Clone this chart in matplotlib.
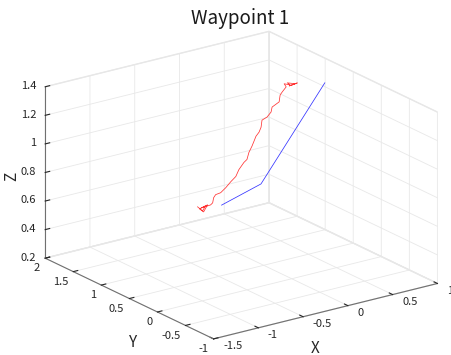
import numpy as np
import matplotlib
matplotlib.use('Agg')
import matplotlib.pyplot as plt
from matplotlib.ticker import FuncFormatter

plt.rcParams['font.family'] = ['Noto Sans CJK JP', 'DejaVu Sans']

# planned path (blue)
plan_x = [0.0, 0.44, 0.62]
plan_y = [1.25, 1.25, 0.40]
plan_z = [0.48, 0.56, 1.40]

# flown path (red)
fly_x = [-0.291, -0.221, -0.205, -0.262, -0.206, -0.186, -0.243, -0.152, -0.136, -0.143,
         -0.131, -0.082, -0.058, -0.043, -0.008, 0.031, 0.040, 0.072, 0.095, 0.093,
         0.105, 0.110, 0.115, 0.135, 0.140, 0.126, 0.172, 0.199, 0.193, 0.254,
         0.241, 0.253, 0.280, 0.247, 0.318, 0.277, 0.371, 0.310, 0.390, 0.341]
fly_y = [1.214, 1.237, 1.209, 1.226, 1.242, 1.203, 1.220, 1.203, 1.192, 1.164,
         1.147, 1.136, 1.119, 1.108, 1.074, 1.046, 1.006, 0.967, 0.950, 0.911,
         0.877, 0.849, 0.821, 0.798, 0.770, 0.731, 0.714, 0.686, 0.658, 0.630,
         0.591, 0.574, 0.546, 0.529, 0.534, 0.523, 0.529, 0.540, 0.523, 0.534]
fly_z = [0.520, 0.476, 0.514, 0.499, 0.466, 0.520, 0.504, 0.514, 0.528, 0.570,
         0.593, 0.601, 0.622, 0.635, 0.678, 0.714, 0.768, 0.821, 0.841, 0.899,
         0.946, 0.985, 1.025, 1.055, 1.094, 1.153, 1.171, 1.207, 1.248, 1.280,
         1.338, 1.360, 1.397, 1.427, 1.407, 1.430, 1.408, 1.400, 1.412, 1.404]

xticks = [-1.5, -1, -0.5, 0, 0.5, 1]
yticks = [-1, -0.5, 0, 0.5, 1, 1.5, 2]
zticks = [0.2, 0.4, 0.6, 0.8, 1, 1.2, 1.4]


def matlab_fmt(v, pos=None):
    s = ('%g' % v)
    return s.replace('\u2212', '-')


fig = plt.figure(figsize=(4.51, 3.55), dpi=100)
ax = fig.add_axes([0.0244, -0.035, 1.0, 1.0], projection='3d', proj_type='ortho')
ax.view_init(elev=20.15, azim=-125.7)
ax.set_box_aspect((273.4, 286.2, 181.1), zoom=1.2)

ax.plot(plan_x, plan_y, plan_z, color='#3333ff', lw=0.55)
ax.plot(fly_x, fly_y, fly_z, color='#ff3333', lw=0.55)

ax.set_xlim(-1.5, 1)
ax.set_ylim(-1, 2)
ax.set_zlim(0.2, 1.4)
ax.set_xticks(xticks)
ax.set_yticks(yticks)
ax.set_zticks(zticks)

for axis in (ax.xaxis, ax.yaxis, ax.zaxis):
    axis.set_major_formatter(FuncFormatter(matlab_fmt))
    axis.set_pane_color((1, 1, 1, 1))
    axis.pane.set_edgecolor('#e6e6e6')
    axis.line.set_color('#707070')
    axis.line.set_linewidth(0.8)
    axis._axinfo['grid']['color'] = '#e8e8e8'
    axis._axinfo['grid']['linewidth'] = 0.6
    axis._axinfo['tick']['inward_factor'] = 0.0
    axis._axinfo['tick']['outward_factor'] = 0.25
    axis._axinfo['tick']['color'] = '#707070'

ax.tick_params(labelsize=8, colors='#262626')
ax.tick_params(axis='y', pad=-5)
ax.tick_params(axis='z', pad=-5)
plt.setp(ax.get_yticklabels(), ha='right')
plt.setp(ax.get_zticklabels(), ha='right', va='center')

# x tick labels sit to the right of their ticks in the MATLAB figure,
# so they are written just outside the front edge of the floor
for tick in ax.xaxis.get_major_ticks():
    tick.label1.set_visible(False)
    tick.label2.set_visible(False)
for xt in xticks:
    ax.text(xt, -1.17, 0.18, matlab_fmt(xt), fontsize=8, color='#262626',
            ha='left', va='center')

# axis titles placed like the MATLAB figure
fig.text(0.027, 0.504, 'Z', fontsize=11, color='#262626', rotation=90,
         ha='center', va='center')
fig.text(0.295, 0.034, 'Y', fontsize=11, color='#262626', ha='center', va='center')
fig.text(0.698, 0.006, 'X', fontsize=11, color='#262626', ha='center', va='baseline')
fig.text(0.532, 0.949, 'Waypoint 1', fontsize=13.5, color='#1a1a1a',
         ha='center', va='center')

fig.savefig('out.png', dpi=100)
